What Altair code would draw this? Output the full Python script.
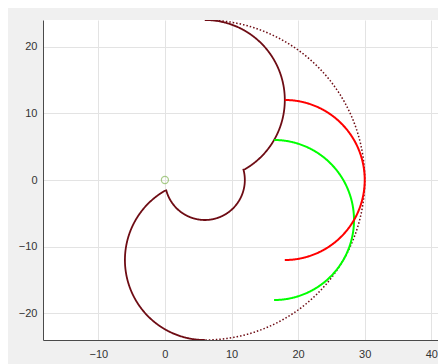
import numpy as np
import pandas as pd
import altair as alt

# Arc definitions (centre, radius, start/end angle in degrees)
arc_series = ["profile", "profile", "profile", "outer", "red", "green"]
arc_cx = [6, 6, 6, 6, 18, 16.39]
arc_cy = [-12, 0, 12, 0, 0, -6]
arc_r = [12, 6, 12, 24, 12, 12]
arc_start = [270, -165, -60, 90, 90, 90]
arc_end = [120, 15, 90, -90, -90, -90]

marker_x = [0]
marker_y = [0]

x_ticks = [-10, 0, 10, 20, 30, 40]
y_ticks = [-20, -15, -10, -5, 0, 5, 10, 15, 20]

rows = []
counter = {}
for s, cx, cy, r, a0, a1 in zip(arc_series, arc_cx, arc_cy, arc_r, arc_start, arc_end):
    n = int(abs(a1 - a0) * 2) + 1
    for a in np.linspace(a0, a1, n):
        k = counter.get(s, 0)
        rows.append({"series": s, "x": cx + r * np.cos(np.radians(a)),
                     "y": cy + r * np.sin(np.radians(a)), "o": k})
        counter[s] = k + 1
df = pd.DataFrame(rows)
pts = pd.DataFrame({"x": marker_x, "y": marker_y})

xs = alt.Scale(domain=[-18.3, 41.0], nice=False, zero=False)
ys = alt.Scale(domain=[-24, 24], nice=False, zero=False)

axis_common = dict(grid=True, gridColor="#e3e3e3", gridWidth=1, ticks=False,
                   domainColor="#4a4a4a", domainWidth=1, labelFont="Liberation Sans",
                   labelFontSize=11, labelColor="#333333", title=None)
xax = alt.Axis(values=x_ticks, labelPadding=8, **axis_common)
yax = alt.Axis(values=y_ticks, labelPadding=6, **axis_common)

def line(series, color, width, dash=None):
    kw = dict(color=color, strokeWidth=width, clip=True)
    if dash:
        kw["strokeDash"] = dash
    return alt.Chart(df).transform_filter(alt.datum.series == series).mark_line(**kw).encode(
        x=alt.X("x:Q", scale=xs, axis=xax),
        y=alt.Y("y:Q", scale=ys, axis=yax),
        order="o:Q",
    )

maroon = "#6e0c14"
outer = line("outer", maroon, 1.5, [1.5, 2])
profile = line("profile", maroon, 1.8)
red = line("red", "#ff0000", 2)
green = line("green", "#00ff00", 2)
marker = alt.Chart(pts).mark_point(shape="circle", filled=False, size=50,
                                   color="#86b85a", strokeWidth=1.2).encode(
    x=alt.X("x:Q", scale=xs), y=alt.Y("y:Q", scale=ys))

chart = alt.layer(outer, profile, green, red, marker).properties(
    width=395, height=320,
    autosize=alt.AutoSizeParams(type="none"),
    padding={"left": 35, "top": 12, "right": 0, "bottom": 24},
    background="#f0f0f0",
).configure_view(fill="white", stroke=None)

chart.save("out.html", embed_options={"renderer": "svg", "actions": False})
